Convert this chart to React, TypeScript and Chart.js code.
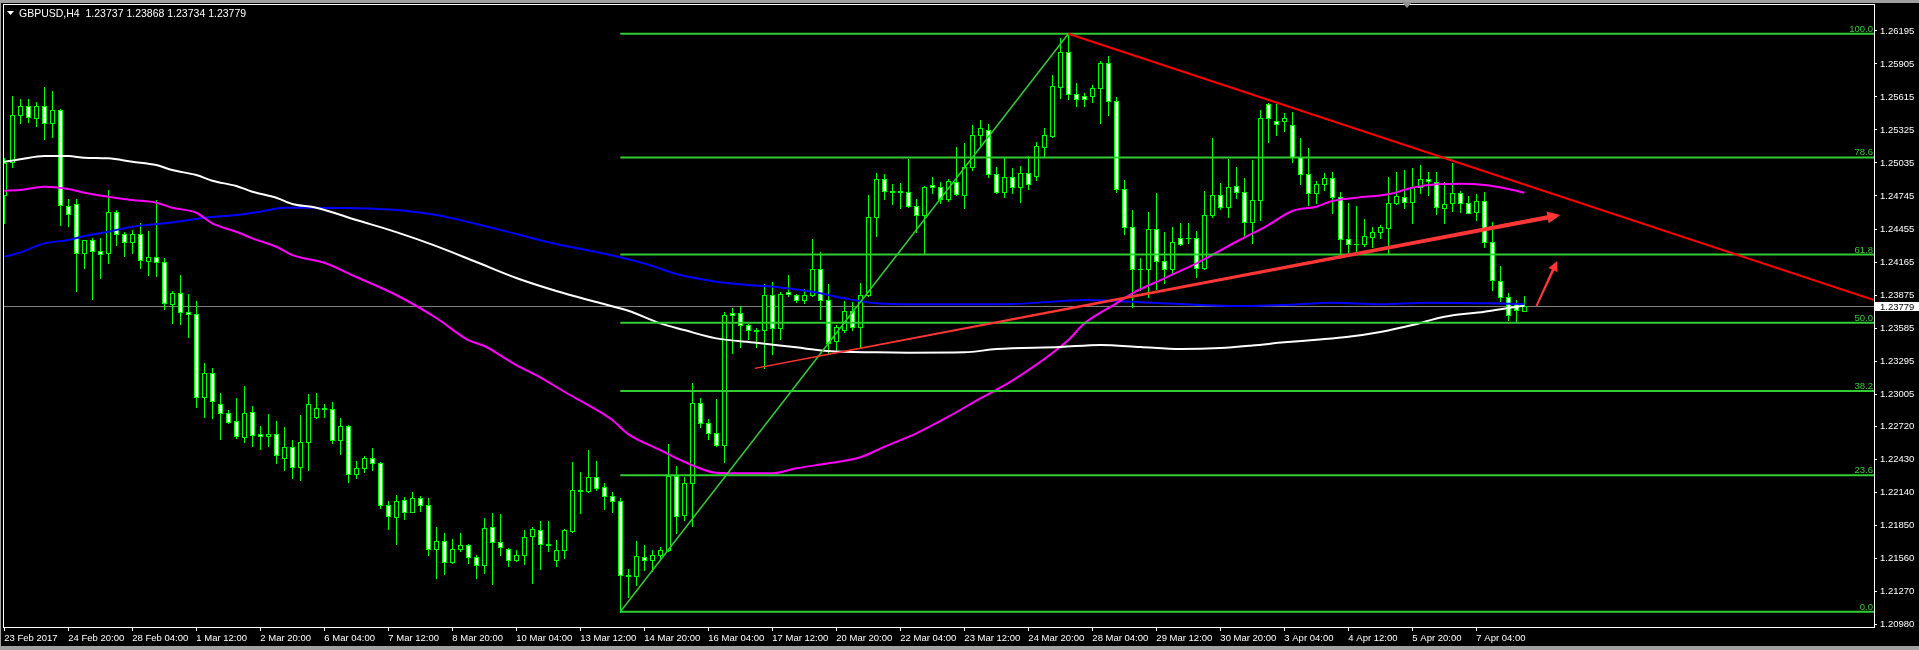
import React, { useEffect, useRef } from "react";
import { Chart, registerables } from "chart.js";

Chart.register(...registerables);

// ---------- header ----------
const headerText = "GBPUSD,H4  1.23737 1.23868 1.23734 1.23779";

// ---------- candles (H4 bars, index 0 = leftmost bar) ----------
const opens = [
  1.24754, 1.25046, 1.25457, 1.25538, 1.25428, 1.25538, 1.25384, 1.25498, 1.24657, 1.24677,
  1.24241, 1.24356, 1.24264, 1.24241, 1.24602, 1.24411, 1.24343, 1.24411, 1.24171, 1.24206,
  1.24162, 1.23793, 1.2389, 1.23723, 1.23708, 1.22981, 1.23187, 1.22914, 1.22835, 1.22765,
  1.2263, 1.22844, 1.22651, 1.22639, 1.22651, 1.22443, 1.22539, 1.22361, 1.22581, 1.228,
  1.2287, 1.2287, 1.22598, 1.22721, 1.22299, 1.22352, 1.2244, 1.22396, 1.22027, 1.21927,
  1.22071, 1.21971, 1.22088, 1.22027, 1.2164, 1.21711, 1.21526, 1.2164, 1.21676, 1.2157,
  1.21505, 1.21834, 1.21702, 1.2164, 1.21544, 1.21588, 1.21754, 1.21807, 1.21684, 1.21544,
  1.21631, 1.21801, 1.22159, 1.2215, 1.22273, 1.22185, 1.22106, 1.22062, 1.21412, 1.21406,
  1.2157, 1.21546, 1.2159, 1.21634, 1.22284, 1.21942, 1.2222, 1.22923, 1.22748, 1.2266,
  1.22554, 1.23714, 1.23714, 1.23611, 1.23567, 1.23565, 1.23875, 1.23582, 1.23899, 1.23872,
  1.23828, 1.23872, 1.24103, 1.23828, 1.23471, 1.23565, 1.23732, 1.23596, 1.23872, 1.24558,
  1.24892, 1.24786, 1.2478, 1.24777, 1.24657, 1.24575, 1.24839, 1.24827, 1.24716, 1.24865,
  1.24751, 1.24997, 1.25281, 1.25325, 1.24938, 1.24783, 1.24909, 1.24821, 1.24944, 1.24923,
  1.25178, 1.25275, 1.25705, 1.26007, 1.25638, 1.25621, 1.25621, 1.25691, 1.25911, 1.25577,
  1.24809, 1.2447, 1.24106, 1.24106, 1.24452, 1.24171, 1.24101, 1.24373, 1.24378, 1.24373,
  1.24109, 1.24575, 1.24751, 1.24651, 1.2483, 1.24783, 1.24514, 1.24707, 1.25551, 1.25404,
  1.25404, 1.25369, 1.2509, 1.24935, 1.24769, 1.24848, 1.249, 1.24739, 1.24364, 1.2432,
  1.2432, 1.24387, 1.24426, 1.24461, 1.24681, 1.24739, 1.24689, 1.24827, 1.24892, 1.2487,
  1.24642, 1.24681, 1.24769, 1.24681, 1.24602, 1.24698, 1.24343, 1.24, 1.23855, 1.23802,
  1.23737,
];
const highs = [
  1.25076, 1.25623, 1.25595, 1.25595, 1.25571, 1.257, 1.25665, 1.25509, 1.24716, 1.24716,
  1.24356, 1.24373, 1.24373, 1.24798, 1.24622, 1.24431, 1.24446, 1.24505, 1.24437, 1.2471,
  1.24197, 1.2391, 1.24048, 1.23884, 1.23822, 1.23277, 1.23231, 1.23011, 1.22864, 1.2297,
  1.23075, 1.229, 1.22724, 1.22829, 1.22768, 1.22715, 1.22601, 1.2282, 1.23005, 1.23014,
  1.22917, 1.22935, 1.22791, 1.2273, 1.22414, 1.22458, 1.2253, 1.22407, 1.22062, 1.22117,
  1.22097, 1.22144, 1.22109, 1.22088, 1.21834, 1.21781, 1.21728, 1.21781, 1.21687, 1.21588,
  1.21913, 1.21957, 1.2195, 1.21649, 1.21631, 1.21807, 1.21834, 1.21889, 1.21889, 1.21722,
  1.21816, 1.22407, 1.2232, 1.22513, 1.22416, 1.2222, 1.22141, 1.22088, 1.21465, 1.21716,
  1.21678, 1.21634, 1.21658, 1.22566, 1.22372, 1.22278, 1.23099, 1.2297, 1.22783, 1.22964,
  1.23723, 1.23761, 1.23781, 1.2362, 1.23582, 1.23972, 1.23989, 1.23899, 1.24048, 1.23886,
  1.23925, 1.24364, 1.24253, 1.23969, 1.23611, 1.23825, 1.23813, 1.23978, 1.24754, 1.24944,
  1.24938, 1.24848, 1.24859, 1.25073, 1.24716, 1.24833, 1.24909, 1.24868, 1.24892, 1.25175,
  1.25211, 1.25369, 1.25413, 1.25377, 1.25002, 1.25076, 1.24988, 1.25008, 1.25096, 1.25219,
  1.25342, 1.25808, 1.2613, 1.26171, 1.25735, 1.25647, 1.2572, 1.25928, 1.25975, 1.25615,
  1.24885, 1.24622, 1.242, 1.24604, 1.24771, 1.24428, 1.2447, 1.24505, 1.24505, 1.24437,
  1.24786, 1.25257, 1.24856, 1.2507, 1.24997, 1.249, 1.25061, 1.255, 1.25565, 1.25551,
  1.25471, 1.25483, 1.25254, 1.25164, 1.24877, 1.24944, 1.24953, 1.24777, 1.24681, 1.24657,
  1.24543, 1.2447, 1.2449, 1.24909, 1.24953, 1.24973, 1.24988, 1.25017, 1.24953, 1.24953,
  1.2487, 1.25037, 1.24791, 1.24745, 1.24762, 1.24777, 1.24514, 1.2413, 1.2389, 1.23831,
  1.23868,
];
const lows = [
  1.2451, 1.25002, 1.25389, 1.25398, 1.25363, 1.25243, 1.25266, 1.24493, 1.24484, 1.23913,
  1.24115, 1.23837, 1.24027, 1.24159, 1.24314, 1.2422, 1.24247, 1.24115, 1.24051, 1.24042,
  1.23749, 1.23631, 1.2362, 1.23503, 1.22893, 1.22806, 1.22797, 1.22612, 1.22748, 1.22618,
  1.22583, 1.22548, 1.22522, 1.22548, 1.22399, 1.22337, 1.22267, 1.22249, 1.22337, 1.22794,
  1.22806, 1.22572, 1.2248, 1.22234, 1.2227, 1.2232, 1.2234, 1.22006, 1.21819, 1.2169,
  1.21909, 1.21971, 1.21977, 1.21588, 1.21391, 1.21426, 1.2152, 1.21623, 1.21522, 1.21391,
  1.21429, 1.21338, 1.21593, 1.21496, 1.21537, 1.21514, 1.21347, 1.2147, 1.21628, 1.21496,
  1.21566, 1.21792, 1.21962, 1.22144, 1.22159, 1.21992, 1.21971, 1.21087, 1.21224, 1.21327,
  1.21458, 1.21452, 1.21561, 1.21625, 1.21781, 1.21898, 1.21848, 1.22718, 1.22607, 1.22548,
  1.2241, 1.23368, 1.23421, 1.23486, 1.23421, 1.23231, 1.23354, 1.23486, 1.23866, 1.23813,
  1.23807, 1.23866, 1.23661, 1.23363, 1.23377, 1.23552, 1.23567, 1.23421, 1.23866, 1.24393,
  1.24718, 1.24677, 1.24637, 1.24648, 1.24431, 1.24235, 1.24769, 1.24681, 1.24703, 1.24754,
  1.24637, 1.24973, 1.25193, 1.24912, 1.24769, 1.24739, 1.24774, 1.24695, 1.24806, 1.24885,
  1.25099, 1.25266, 1.25608, 1.25597, 1.25536, 1.25536, 1.25571, 1.25389, 1.25457, 1.24783,
  1.24411, 1.23767, 1.23919, 1.23855, 1.23925, 1.23978, 1.24071, 1.24311, 1.24329, 1.2403,
  1.24101, 1.24563, 1.24633, 1.24563, 1.2473, 1.24387, 1.24334, 1.24534, 1.25222, 1.25281,
  1.25318, 1.25046, 1.24848, 1.24666, 1.24686, 1.24798, 1.24593, 1.24226, 1.24255, 1.24241,
  1.24305, 1.24299, 1.24378, 1.24233, 1.24672, 1.24642, 1.24505, 1.24769, 1.24754, 1.24584,
  1.24505, 1.24616, 1.24607, 1.24593, 1.24534, 1.24299, 1.23919, 1.23825, 1.23655, 1.23649,
  1.23734,
];
const closes = [
  1.25032, 1.25457, 1.25538, 1.25436, 1.25538, 1.25384, 1.25498, 1.24663, 1.24584, 1.24241,
  1.24356, 1.24264, 1.24233, 1.24602, 1.24411, 1.24343, 1.24411, 1.2418, 1.24206, 1.24162,
  1.23802, 1.2389, 1.23723, 1.23705, 1.22981, 1.23187, 1.22946, 1.22835, 1.22762, 1.22639,
  1.22835, 1.22647, 1.22633, 1.22651, 1.22469, 1.22539, 1.22364, 1.22581, 1.22914, 1.22879,
  1.22879, 1.22601, 1.22721, 1.22299, 1.22352, 1.2244, 1.22396, 1.22027, 1.2193, 1.22062,
  1.21965, 1.22088, 1.22027, 1.2164, 1.21711, 1.21526, 1.2164, 1.21676, 1.2157, 1.21505,
  1.21825, 1.21702, 1.21658, 1.21544, 1.21588, 1.21746, 1.21816, 1.21684, 1.21676, 1.21631,
  1.21807, 1.22159, 1.2215, 1.22273, 1.22176, 1.22106, 1.22062, 1.21412, 1.21403, 1.21581,
  1.21546, 1.2159, 1.21634, 1.22284, 1.21936, 1.2222, 1.22923, 1.22748, 1.2266, 1.22554,
  1.23699, 1.23699, 1.23611, 1.23565, 1.23561, 1.23875, 1.23582, 1.23884, 1.23884, 1.23828,
  1.23872, 1.24103, 1.23828, 1.23456, 1.23591, 1.23732, 1.23596, 1.23872, 1.24558, 1.24892,
  1.24789, 1.2478, 1.24786, 1.24657, 1.24575, 1.24821, 1.24824, 1.24721, 1.24877, 1.2476,
  1.25002, 1.25281, 1.25342, 1.24938, 1.24783, 1.24909, 1.24821, 1.24944, 1.24848, 1.25181,
  1.25278, 1.25709, 1.26007, 1.25638, 1.256, 1.25595, 1.25691, 1.25911, 1.25577, 1.24809,
  1.24475, 1.24101, 1.24103, 1.24452, 1.24171, 1.24101, 1.24338, 1.2432, 1.24376, 1.24109,
  1.24575, 1.24751, 1.24651, 1.24821, 1.24783, 1.24514, 1.24707, 1.25428, 1.25428, 1.2538,
  1.25428, 1.2509, 1.24935, 1.24769, 1.24848, 1.249, 1.24739, 1.24364, 1.2432, 1.24323,
  1.24391, 1.24426, 1.2447, 1.24681, 1.24745, 1.24689, 1.24827, 1.24892, 1.24874, 1.24646,
  1.24672, 1.24769, 1.24681, 1.24598, 1.24698, 1.24343, 1.24007, 1.23855, 1.23696, 1.23743,
  1.23779,
];

// ---------- axes ----------
const xTickBars = [0, 8, 16, 24, 32, 40, 48, 56, 64, 72, 80, 88, 96, 104, 112, 120, 128, 136, 144, 152, 160, 168, 176, 184];
const xTickLabels = [
  "23 Feb 2017", "24 Feb 20:00", "28 Feb 04:00", "1 Mar 12:00", "2 Mar 20:00", "6 Mar 04:00",
  "7 Mar 12:00", "8 Mar 20:00", "10 Mar 04:00", "13 Mar 12:00", "14 Mar 20:00", "16 Mar 04:00",
  "17 Mar 12:00", "20 Mar 20:00", "22 Mar 04:00", "23 Mar 12:00", "24 Mar 20:00", "28 Mar 04:00",
  "29 Mar 12:00", "30 Mar 20:00", "3 Apr 04:00", "4 Apr 12:00", "5 Apr 20:00", "7 Apr 04:00",
];
const yTickValues = [
  1.26195, 1.25905, 1.25615, 1.25325, 1.25035, 1.24745, 1.24455, 1.24165, 1.23875, 1.23585,
  1.23295, 1.23005, 1.2272, 1.2243, 1.2214, 1.2185, 1.2156, 1.2127, 1.2098,
];

// ---------- moving averages (bar index, price) ----------
const maWhiteBars = [0, 2, 5, 8, 10, 13, 16, 19, 21, 24, 26, 29, 31, 34, 36, 39, 44, 49, 54, 59, 64, 69, 74, 78, 82, 85, 89, 94, 99, 103, 109, 113, 120, 124, 132, 137, 142, 147, 152, 156, 160, 164, 168, 172, 176, 180, 185, 189, 190];
const maWhiteValues = [
  1.25046, 1.25067, 1.25096, 1.25096, 1.25081, 1.25076, 1.25046, 1.25017, 1.24973, 1.24929,
  1.24879, 1.24833, 1.24783, 1.2473, 1.24675, 1.24642, 1.24534, 1.24428, 1.24305, 1.24165,
  1.24024, 1.2391, 1.23813, 1.23737, 1.23626, 1.23567, 1.23494, 1.23456, 1.23415, 1.23383,
  1.23371, 1.23368, 1.23371, 1.234, 1.23418, 1.23436, 1.23418, 1.234, 1.23409, 1.23431,
  1.23459, 1.23482, 1.23508, 1.2355, 1.23611, 1.23684, 1.23728, 1.23772, 1.23781,
];
const maMagentaBars = [0, 2, 5, 8, 10, 13, 16, 19, 21, 24, 26, 29, 31, 34, 36, 40, 44, 49, 54, 58, 60, 64, 67, 70, 73, 76, 78, 82, 85, 89, 92, 96, 99, 103, 107, 110, 114, 118, 122, 126, 133, 135, 139, 141, 145, 149, 154, 158, 161, 164, 166, 169, 173, 176, 179, 182, 185, 188, 190];
const maMagentaValues = [
  1.24791, 1.24798, 1.24827, 1.24806, 1.24774, 1.24739, 1.2471, 1.24686, 1.24642, 1.24598,
  1.24505, 1.24431, 1.24373, 1.24299, 1.24226, 1.24159, 1.24033, 1.23875, 1.23673, 1.23479,
  1.23427, 1.2326, 1.23152, 1.23025, 1.22908, 1.22777, 1.22653, 1.22513, 1.2241, 1.22313,
  1.22308, 1.22308, 1.22352, 1.22396, 1.22449, 1.22542, 1.2266, 1.22806, 1.22967, 1.23122,
  1.23479, 1.23626, 1.23802, 1.2389, 1.24022, 1.24153, 1.24343, 1.2449, 1.24613, 1.24651,
  1.24701, 1.2473, 1.2476, 1.24818, 1.24848, 1.24853, 1.24841, 1.24806, 1.24774,
];
const maBlueBars = [0, 2, 5, 8, 10, 13, 16, 20, 23, 25, 29, 32, 35, 38, 43, 49, 54, 59, 64, 69, 74, 78, 81, 84, 89, 93, 97, 101, 105, 109, 114, 120, 126, 131, 135, 141, 147, 154, 161, 166, 172, 178, 185, 190];
const maBlueValues = [
  1.24211, 1.2425, 1.24329, 1.24358, 1.24393, 1.24431, 1.24475, 1.24505, 1.24534, 1.24554,
  1.24578, 1.24607, 1.24642, 1.24642, 1.24639, 1.24622, 1.24578, 1.24499, 1.24411, 1.24323,
  1.24253, 1.24189, 1.2413, 1.24059, 1.23992, 1.23963, 1.23942, 1.23904, 1.23846, 1.23802,
  1.23793, 1.23793, 1.23796, 1.23816, 1.23831, 1.23816, 1.23796, 1.23778, 1.2379, 1.23807,
  1.23793, 1.23807, 1.23802, 1.23796,
];

// ---------- drawn objects ----------
const fibLow = 1.21092;
const fibHigh = 1.26171;
const fibStartBar = 77;
const fibEndBar = 133;
const fibLevels = [0, 23.6, 38.2, 50, 61.8, 78.6, 100];
const fibLevelLabels = ["0.0", "23.6", "38.2", "50.0", "61.8", "78.6", "100.0"];
const currentPrice = 1.23779;
const currentPriceLabel = "1.23779";
const resistanceBars = [133, 233.7];
const resistancePrices = [1.26171, 1.23831];
const supportArrowBars = [93.8, 194.5];
const supportArrowPrices = [1.23231, 1.24578];
const shortArrowBars = [191.5, 194.1];
const shortArrowPrices = [1.23778, 1.24174];
const chartShiftBar = 175.3;

// ---------- view ----------
const X_MIN = -0.16;
const X_MAX = 233.7;
const Y_MIN = 1.20958;
const Y_MAX = 1.26432;

const FONT_FAMILY = "'Liberation Sans', Arial, sans-serif";
const AXIS_FONT_SIZE = 9.5;
const CANDLE_GREEN = "#00ff00";
const FIB_GREEN = "#32cd32";
const RED = "#ff0000";
const ARROW_RED = "#ff3636";

function pts(xs: number[], ys: number[]) {
  return xs.map((x, i) => ({ x, y: ys[i] }));
}

function lineDs(data: { x: number; y: number }[], color: string, width: number, order: number, smooth = false) {
  return {
    type: "line" as const,
    data,
    borderColor: color,
    backgroundColor: color,
    borderWidth: width,
    pointRadius: 0,
    pointHoverRadius: 0,
    fill: false,
    order,
    tension: smooth ? 0.4 : 0,
    cubicInterpolationMode: smooth ? ("monotone" as const) : ("default" as const),
  };
}

function drawArrow(
  ctx: CanvasRenderingContext2D,
  x0: number, y0: number, x1: number, y1: number,
  w0: number, w1: number, headLen: number, headHalf: number, color: string
) {
  const dx = x1 - x0, dy = y1 - y0;
  const len = Math.hypot(dx, dy);
  const ux = dx / len, uy = dy / len;
  const nx = -uy, ny = ux;
  const bx = x1 - ux * headLen, by = y1 - uy * headLen;
  ctx.beginPath();
  ctx.moveTo(x0 + (nx * w0) / 2, y0 + (ny * w0) / 2);
  ctx.lineTo(bx + (nx * w1) / 2, by + (ny * w1) / 2);
  ctx.lineTo(bx + nx * headHalf, by + ny * headHalf);
  ctx.lineTo(x1, y1);
  ctx.lineTo(bx - nx * headHalf, by - ny * headHalf);
  ctx.lineTo(bx - (nx * w1) / 2, by - (ny * w1) / 2);
  ctx.lineTo(x0 - (nx * w0) / 2, y0 - (ny * w0) / 2);
  ctx.closePath();
  ctx.fillStyle = color;
  ctx.fill();
}

const backgroundPlugin = {
  id: "mtBackground",
  beforeDraw(chart: any) {
    const { ctx, width, height } = chart;
    ctx.save();
    ctx.fillStyle = "#000000";
    ctx.fillRect(0, 0, width, height);
    ctx.fillStyle = "#a0a0a0";
    ctx.fillRect(0, 0, width, 3);
    ctx.fillRect(0, height - 4, width, 4);
    ctx.fillRect(0, 0, 1, height);
    ctx.restore();
  },
};

const candlePlugin = {
  id: "mtCandles",
  beforeDatasetsDraw(chart: any) {
    const { ctx, chartArea, scales } = chart;
    const xs = scales.x, ys = scales.y;
    ctx.save();
    ctx.beginPath();
    ctx.rect(chartArea.left, chartArea.top, chartArea.right - chartArea.left, chartArea.bottom - chartArea.top);
    ctx.clip();
    // current price line
    const py = Math.round(ys.getPixelForValue(currentPrice));
    ctx.fillStyle = "#808080";
    ctx.fillRect(chartArea.left, py, chartArea.right - chartArea.left, 1);
    for (let i = 0; i < opens.length; i++) {
      const cx = Math.round(xs.getPixelForValue(i));
      const yo = Math.round(ys.getPixelForValue(opens[i]));
      const yc = Math.round(ys.getPixelForValue(closes[i]));
      const yh = Math.round(ys.getPixelForValue(highs[i]));
      const yl = Math.round(ys.getPixelForValue(lows[i]));
      ctx.fillStyle = CANDLE_GREEN;
      ctx.fillRect(cx, yh, 1, yl - yh + 1);
      const top = Math.min(yo, yc);
      const bot = Math.max(yo, yc);
      const bear = closes[i] < opens[i];
      ctx.fillStyle = CANDLE_GREEN;
      ctx.fillRect(cx - 2, top, 5, bot - top + 1);
      if (bot - top >= 2) {
        ctx.fillStyle = bear ? "#ffffff" : "#000000";
        ctx.fillRect(cx - 1, top + 1, 3, bot - top - 1);
      }
    }
    ctx.restore();
  },
};

const overlayPlugin = {
  id: "mtOverlay",
  afterDatasetsDraw(chart: any) {
    const { ctx, chartArea, scales } = chart;
    const xs = scales.x, ys = scales.y;
    ctx.save();
    ctx.beginPath();
    ctx.rect(chartArea.left, chartArea.top, chartArea.right - chartArea.left, chartArea.bottom - chartArea.top);
    ctx.clip();
    drawArrow(
      ctx,
      xs.getPixelForValue(supportArrowBars[0]), ys.getPixelForValue(supportArrowPrices[0]),
      xs.getPixelForValue(supportArrowBars[1]), ys.getPixelForValue(supportArrowPrices[1]),
      1.2, 4.2, 13, 6, ARROW_RED
    );
    drawArrow(
      ctx,
      xs.getPixelForValue(shortArrowBars[0]), ys.getPixelForValue(shortArrowPrices[0]),
      xs.getPixelForValue(shortArrowBars[1]), ys.getPixelForValue(shortArrowPrices[1]),
      2, 2.6, 10, 5, ARROW_RED
    );
    // fibonacci level labels
    ctx.font = `${AXIS_FONT_SIZE}px ${FONT_FAMILY}`;
    ctx.fillStyle = FIB_GREEN;
    ctx.textAlign = "right";
    ctx.textBaseline = "alphabetic";
    fibLevels.forEach((lv, i) => {
      const y = ys.getPixelForValue(fibLow + ((fibHigh - fibLow) * lv) / 100);
      ctx.fillText(fibLevelLabels[i], chartArea.right - 1, y - 2);
    });
    ctx.restore();
  },
  afterDraw(chart: any) {
    const { ctx, chartArea, scales, width } = chart;
    const ys = scales.y, xs = scales.x;
    ctx.save();
    // chart frame (left / top)
    ctx.fillStyle = "#ffffff";
    ctx.fillRect(chartArea.left, chartArea.top, 1, chartArea.bottom - chartArea.top);
    ctx.fillRect(chartArea.left, chartArea.top, chartArea.right - chartArea.left, 1);
    // current price box
    const py = Math.round(ys.getPixelForValue(currentPrice));
    ctx.fillStyle = "#ffffff";
    ctx.fillRect(chartArea.right + 1, py - 4, width - chartArea.right - 1, 9);
    ctx.fillStyle = "#000000";
    ctx.font = `${AXIS_FONT_SIZE}px ${FONT_FAMILY}`;
    ctx.textAlign = "left";
    ctx.textBaseline = "middle";
    ctx.fillText(currentPriceLabel, chartArea.right + 6, py + 1);
    // header
    ctx.fillStyle = "#ffffff";
    ctx.beginPath();
    ctx.moveTo(7, 11);
    ctx.lineTo(14, 11);
    ctx.lineTo(10.5, 15);
    ctx.closePath();
    ctx.fill();
    ctx.font = `10.5px ${FONT_FAMILY}`;
    ctx.textBaseline = "alphabetic";
    ctx.fillText(headerText, 19, 17);
    // chart shift marker
    const sx = Math.round(xs.getPixelForValue(chartShiftBar));
    ctx.fillStyle = "#909090";
    ctx.beginPath();
    ctx.moveTo(sx - 5, 2);
    ctx.lineTo(sx + 5, 2);
    ctx.lineTo(sx, 8);
    ctx.closePath();
    ctx.fill();
    ctx.restore();
  },
};

export default function App() {
  const canvasRef = useRef<HTMLCanvasElement>(null);

  useEffect(() => {
    const canvas = canvasRef.current;
    if (!canvas) return;

    const fibDatasets = fibLevels.map((lv) => {
      const p = fibLow + ((fibHigh - fibLow) * lv) / 100;
      return lineDs(pts([fibStartBar, X_MAX], [p, p]), FIB_GREEN, 2, 2);
    });

    const datasets: any[] = [
      ...fibDatasets,
      lineDs(pts([fibStartBar, fibEndBar], [fibLow, fibHigh]), FIB_GREEN, 1.5, 2),
      lineDs(pts(resistanceBars, resistancePrices), RED, 2, 1),
      lineDs(pts(maBlueBars, maBlueValues), "#0000ff", 2, 5, true),
      lineDs(pts(maMagentaBars, maMagentaValues), "#ff00ff", 2, 4, true),
      lineDs(pts(maWhiteBars, maWhiteValues), "#ffffff", 2, 3, true),
    ];

    const tickFont = { family: FONT_FAMILY, size: AXIS_FONT_SIZE };

    const chart = new Chart(canvas, {
      type: "line",
      data: { datasets },
      options: {
        animation: false,
        responsive: false,
        maintainAspectRatio: false,
        devicePixelRatio: 1,
        events: [],
        layout: { padding: { left: 3, top: 4, right: 0, bottom: 0 } },
        plugins: { legend: { display: false }, tooltip: { enabled: false }, title: { display: false } },
        scales: {
          x: {
            type: "linear",
            position: "bottom",
            min: X_MIN,
            max: X_MAX,
            afterBuildTicks: (s: any) => {
              s.ticks = xTickBars.map((v) => ({ value: v }));
            },
            afterFit: (s: any) => {
              s.height = 23;
              s.paddingLeft = 0;
              s.paddingRight = 0;
            },
            ticks: {
              autoSkip: false,
              maxRotation: 0,
              minRotation: 0,
              align: "start",
              color: "#ffffff",
              font: tickFont,
              padding: 2,
              callback: (_v: any, i: number) => xTickLabels[i],
            },
            grid: { drawOnChartArea: false, drawTicks: true, tickLength: 4, color: "#ffffff" },
            border: { display: true, color: "#ffffff", width: 1 },
          },
          y: {
            type: "linear",
            position: "right",
            min: Y_MIN,
            max: Y_MAX,
            afterBuildTicks: (s: any) => {
              s.ticks = yTickValues.map((v) => ({ value: v }));
            },
            afterFit: (s: any) => {
              s.width = 45;
              s.paddingTop = 0;
              s.paddingBottom = 0;
            },
            ticks: {
              color: "#ffffff",
              font: tickFont,
              padding: 3,
              callback: (v: any) => Number(v).toFixed(5),
            },
            grid: { drawOnChartArea: false, drawTicks: true, tickLength: 3, color: "#ffffff" },
            border: { display: true, color: "#ffffff", width: 1 },
          },
        },
      } as any,
      plugins: [backgroundPlugin, candlePlugin, overlayPlugin],
    });

    return () => chart.destroy();
  }, []);

  return (
    <div style={{ position: "fixed", left: 0, top: 0, width: 1919, height: 650, background: "#000" }}>
      <canvas ref={canvasRef} width={1919} height={650} style={{ display: "block", width: 1919, height: 650 }} />
    </div>
  );
}
